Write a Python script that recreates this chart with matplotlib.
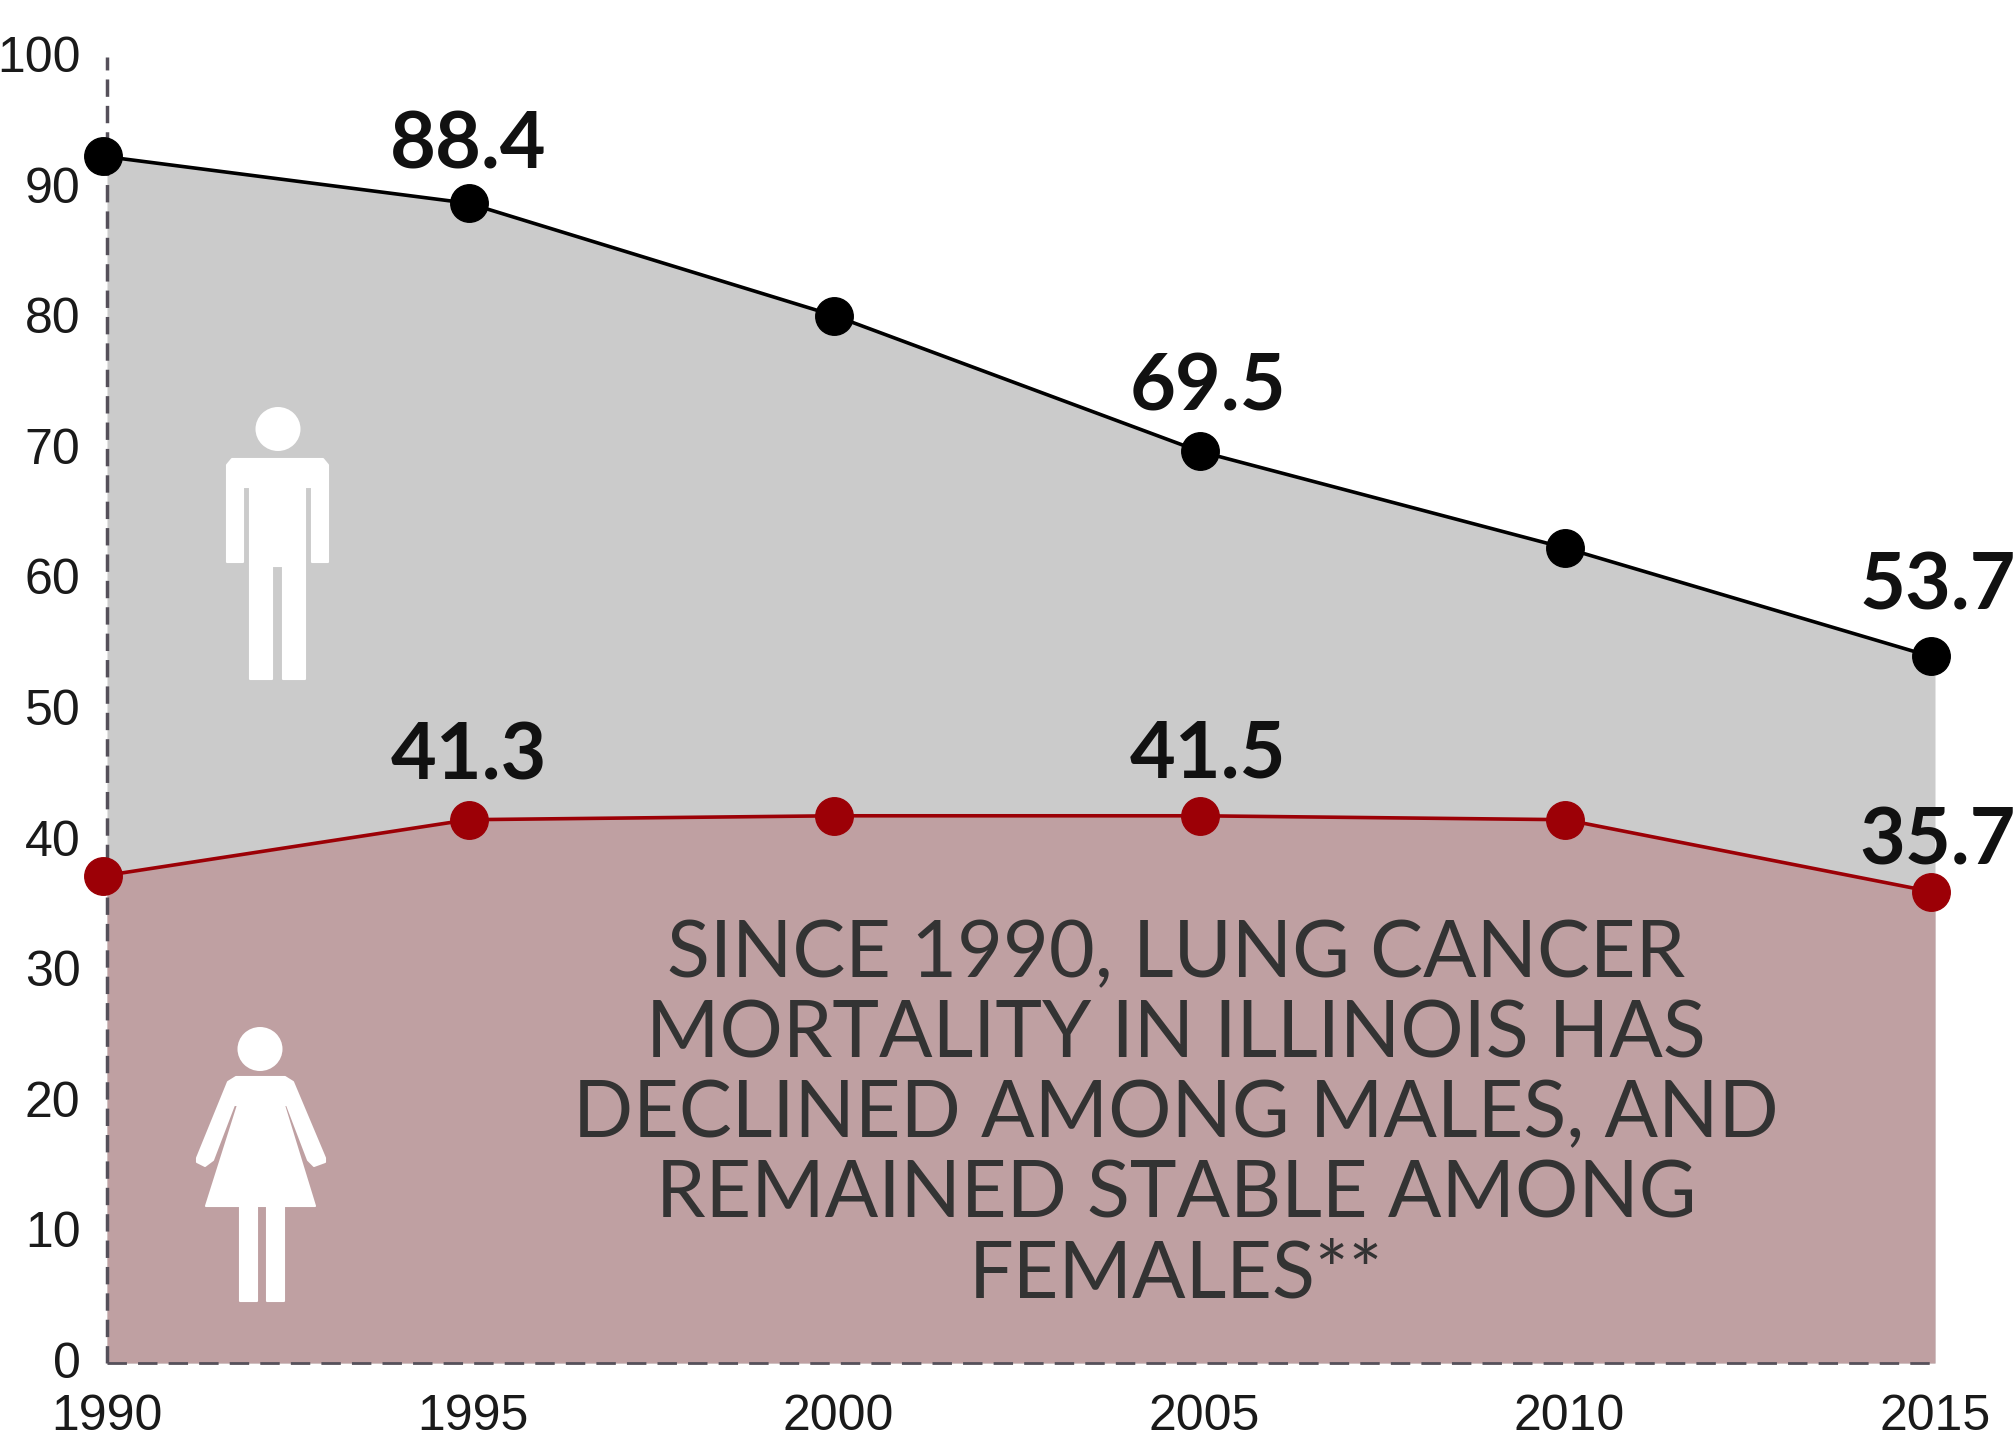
import numpy as np
import matplotlib
matplotlib.use('Agg')
import matplotlib.pyplot as plt
from matplotlib.patches import Polygon, Ellipse
from matplotlib.transforms import ScaledTranslation

years = [1990, 1995, 2000, 2005, 2010, 2015]
male = [92.4, 88.8, 80.2, 69.8, 62.4, 54.1]
female = [37.3, 41.6, 41.9, 41.9, 41.6, 36.1]
y_ticks = [0, 10, 20, 30, 40, 50, 60, 70, 80, 90, 100]

male_labels = {1995: '88.4', 2005: '69.5', 2015: '53.7'}
female_labels = {1995: '41.3', 2005: '41.5', 2015: '35.7'}
note_lines = ['SINCE 1990, LUNG CANCER',
              'MORTALITY IN ILLINOIS HAS',
              'DECLINED AMONG MALES, AND',
              'REMAINED STABLE AMONG',
              'FEMALES**']

W, H = 2016, 1456
fig = plt.figure(figsize=(W/100, H/100), dpi=100, facecolor='white')
ax = fig.add_axes([107/W, (H-1363)/H, 1828/W, 1306/H])
ax.set_xlim(1990, 2015)
ax.set_ylim(0, 100)
for s in ax.spines.values():
    s.set_visible(False)

ax.fill_between(years, 0, male, color='#cbcbcb', lw=0, zorder=1)
ax.fill_between(years, 0, female, color='#bfa0a2', lw=0, zorder=2)

# dashed axes sit on top of the fills
ax.plot([1990, 1990], [0, 100], color='#55505a', lw=2.5, dashes=(5, 2.6), clip_on=False, zorder=3)
ax.plot([1990, 2015], [0, 0], color='#55505a', lw=2, dashes=(7, 4), clip_on=False, zorder=3)

# markers are a few pixels left of the axis positions in the original
shift = ax.transData + ScaledTranslation(-4/100, 0, fig.dpi_scale_trans)
ax.plot(years, male, color='black', lw=2.6, marker='o', ms=27, transform=shift, clip_on=False, zorder=4)
ax.plot(years, female, color='#9c0006', lw=2.6, marker='o', ms=27, transform=shift, clip_on=False, zorder=4)

ax.set_xticks(years)
ax.set_yticks(y_ticks)
ax.tick_params(length=0, labelsize=36, labelcolor='#1a1a1a')
ax.tick_params(axis='x', pad=22)
ax.tick_params(axis='y', pad=19)
for t in ax.get_xticklabels() + ax.get_yticklabels():
    t.set_family('Liberation Sans')
for t in ax.get_yticklabels():
    t.set_transform(t.get_transform() + ScaledTranslation(0, 3/100, fig.dpi_scale_trans))

def put_labels(values, labels, offsets):
    for yr, val in zip(years, values):
        if yr in labels:
            ax.annotate(labels[yr], (yr, val), xytext=offsets[yr], textcoords='offset points',
                        ha='center', va='center', family='Lato', weight='bold', fontsize=57,
                        color='#111111', zorder=6, annotation_clip=False)

put_labels(male, male_labels, {1995: (-3, 41), 2005: (3, 45.5), 2015: (2, 50)})
put_labels(female, female_labels, {1995: (-2.5, 44.5), 2005: (3, 43.5), 2015: (2, 35.6)})

# note, centred on the pink block
line_y = [955, 1035, 1115, 1195, 1275]
overlay = fig.add_axes([0, 0, 1, 1], facecolor='none')
overlay.set_xlim(0, W)
overlay.set_ylim(H, 0)
overlay.axis('off')
for line, y in zip(note_lines, line_y):
    overlay.text(1176, y, line, ha='center', va='center', family='Lato', fontsize=57, color='#333333')

# pictograms, in image pixels
man = [(227,465),(232,459),(323,459),(328,465),(328,562),(312,562),(312,487),(305,487),(305,679),
       (283,679),(283,566),(272,566),(272,679),(250,679),(250,487),(243,487),(243,562),(227,562)]
woman = [(236,1077),(285,1077),(293,1082),(325,1158),(325,1162),(314,1166),(308,1160),(287,1105),(284,1105),
         (315,1206),(284,1206),(284,1301),(267,1301),(267,1206),(257,1206),(257,1301),(240,1301),(240,1206),
         (206,1206),(238,1105),(234,1105),(213,1160),(205,1166),(197,1162),(197,1158),(228,1082)]
overlay.add_patch(Polygon(man, closed=True, fc='white', ec='white', lw=1.5, joinstyle='round'))
overlay.add_patch(Polygon(woman, closed=True, fc='white', ec='white', lw=1.5, joinstyle='round'))
overlay.add_patch(Ellipse((278, 429), 45, 44, fc='white', ec='none'))
overlay.add_patch(Ellipse((260, 1049), 45, 44, fc='white', ec='none'))

fig.savefig('out.png', dpi=100)
plt.close()
